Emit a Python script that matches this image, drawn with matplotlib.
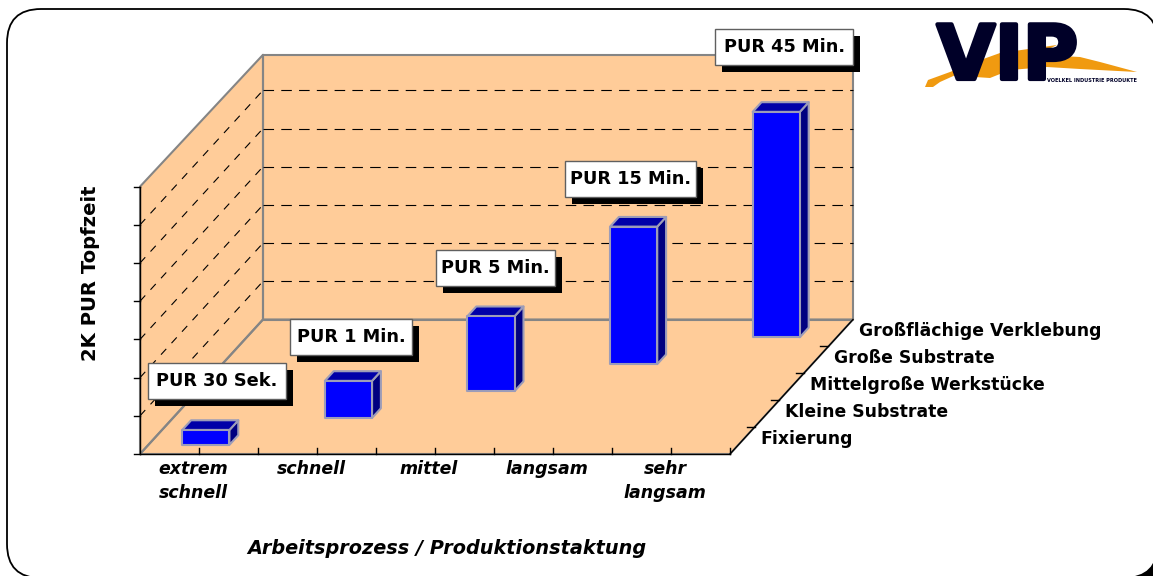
import matplotlib
matplotlib.use("Agg")
import matplotlib.pyplot as plt
import matplotlib.patheffects as pe
from matplotlib.patches import Polygon, FancyBboxPatch, Rectangle

categories = ["extrem\nschnell", "schnell", "mittel", "langsam", "sehr\nlangsam"]
depths = ["Fixierung", "Kleine Substrate", "Mittelgroße Werkstücke", "Große Substrate", "Großflächige Verklebung"]
values = [0.39, 0.97, 1.96, 3.6, 5.9]
bar_labels = ["PUR 30 Sek.", "PUR 1 Min.", "PUR 5 Min.", "PUR 15 Min.", "PUR 45 Min."]
z_ticks = 7

# Layout (pixels): callout boxes as left, top, width
label_boxes = [(148, 363, 138), (290, 319, 122), (436, 250, 119), (565, 161, 131), (715, 29, 138)]

W, H = 1153, 576
fig = plt.figure(figsize=(W/100, H/100), dpi=100, facecolor="white")
ax = fig.add_axes([0, 0, 1, 1])
ax.set_xlim(0, W); ax.set_ylim(H, 0); ax.axis("off")

ORIGIN = (140.0, 454.0); UX = 118.0; DX = 24.6; DY = 26.9; UZ = 38.2
def P(x, d, z):
    return (ORIGIN[0] + UX*x + DX*d, ORIGIN[1] - DY*d - UZ*z)

FONT = "DejaVu Sans"
GRAY = "#858585"; WALL = "#FFCC99"
n = len(categories)
z_back = 6.93

# Rounded frame with the black corner beyond it
ax.add_patch(Rectangle((1125, 555), 30, 22, fc="black", ec="none", zorder=0.2))
ax.add_patch(FancyBboxPatch((7, 9), 1151, 569, boxstyle="round,pad=0,rounding_size=34",
             fc="white", ec="black", lw=1.3, zorder=0.5))

# Walls and floor
left = [P(0,0,0), P(0,n,0), P(0,n,z_back), P(0,0,z_ticks)]
back = [P(0,n,0), P(n,n,0), P(n,n,z_back), P(0,n,z_back)]
floor = [P(0,0,0), P(n,0,0), P(n,n,0), P(0,n,0)]
for poly in (left, back, floor):
    ax.add_patch(Polygon(poly, closed=True, fc=WALL, ec="none", zorder=1))
for poly in (left, back, floor):
    ax.add_patch(Polygon(poly, closed=True, fc="none", ec=GRAY, lw=1.5, zorder=1.2, joinstyle="round"))

# Dashed gridlines
for z in range(1, z_ticks):
    a, b, c = P(0,0,z), P(0,n,z), P(n,n,z)
    ax.plot([a[0], b[0]], [a[1], b[1]], color="black", lw=0.8, dashes=(7, 7), zorder=1.5)
    ax.plot([b[0], c[0]], [b[1], c[1]], color="black", lw=0.8, dashes=(9.5, 6.5), zorder=1.5)

# Axis lines and ticks
a, b = P(0,0,0), P(n,0,0)
ax.plot([a[0], b[0]], [a[1], b[1]], color="black", lw=1.0, zorder=2)
a, b = P(0,0,0), P(0,0,z_ticks)
ax.plot([a[0], b[0]], [a[1], b[1]], color="black", lw=1.0, zorder=2)
for z in range(0, z_ticks+1):
    p = P(0,0,z)
    ax.plot([p[0]-6, p[0]], [p[1], p[1]], color="black", lw=1.0, zorder=2)
for k in range(1, 2*n+1):
    p = P(k/2,0,0)
    ax.plot([p[0], p[0]], [p[1], p[1]-6], color="black", lw=1.0, zorder=2)
a, b = P(n,0,0), P(n,n,0)
ax.plot([a[0], b[0]], [a[1], b[1]], color="black", lw=1.0, zorder=2)
for d in range(1, n):
    p = P(n,d,0)
    ax.plot([p[0]-8, p[0]], [p[1], p[1]], color="black", lw=1.0, zorder=2)

# Bars
HW = 0.2; D0 = 0.34; D1 = 0.70
for i, v in enumerate(values):
    x0, x1 = i+0.487-HW, i+0.487+HW
    d0, d1 = i+D0, i+D1
    kw = dict(closed=True, ec="#9C9CB8", lw=1.5, zorder=3, joinstyle="round")
    ax.add_patch(Polygon([P(x1,d0,0),P(x1,d1,0),P(x1,d1,v),P(x1,d0,v)], fc="#000080", **kw))
    ax.add_patch(Polygon([P(x0,d0,v),P(x1,d0,v),P(x1,d1,v),P(x0,d1,v)], fc="#0000A8", **kw))
    ax.add_patch(Polygon([P(x0,d0,0),P(x1,d0,0),P(x1,d0,v),P(x0,d0,v)], fc="#0000FF", **kw))

# Callout labels
for (bx, by, bw), s in zip(label_boxes, bar_labels):
    ax.add_patch(Rectangle((bx+7, by+7), bw, 36, fc="black", ec="none", zorder=4))
    ax.add_patch(Rectangle((bx, by), bw, 36, fc="white", ec="#606060", lw=1, zorder=4.5))
    ax.text(bx+bw/2, by+18, s, ha="center", va="center", fontsize=12.8, fontweight="bold",
            family=FONT, zorder=5)

# Category labels
for i, c in enumerate(categories):
    p = P(i+0.45, 0, 0)
    ax.text(p[0], p[1]+6, c, ha="center", va="top", fontsize=12.5, fontweight="bold",
            style="italic", family=FONT, linespacing=1.4)

# Depth labels
for d, s in enumerate(depths):
    p = P(n, d+0.5, 0)
    ax.text(p[0]+18, p[1]-2, s, ha="left", va="center", fontsize=12.4, fontweight="bold", family=FONT)

# Axis titles
ax.text(90, 273, "2K PUR Topfzeit", rotation=90, ha="center", va="center", fontsize=14.1,
        fontweight="bold", family=FONT)
ax.text(447, 549, "Arbeitsprozess / Produktionstaktung", ha="center", va="center", fontsize=13.9,
        fontweight="bold", style="italic", family=FONT)

# Logo
swoosh = [(925,87),(928,80),(950,72),(975,62),(1000,53),(1057,45),(1043,52),(1060,56),(1080,57),(1100,62),(1137,72),
          (1080,69),(1047,67),(1010,70),(990,78),(975,77),(960,73),(940,82),(933,87)]
ax.add_patch(Polygon(swoosh, closed=True, fc="#F09A10", ec="none", zorder=6))
ax.text(937, 79, "VIP", ha="left", va="baseline", fontsize=54, fontweight="bold",
        family=FONT, color="#000028", zorder=7,
        path_effects=[pe.withStroke(linewidth=3, foreground="#000028")])
ax.text(1092, 81, "VOELKEL INDUSTRIE PRODUKTE", ha="center", va="center", fontsize=3.6, fontweight="bold",
        family=FONT, color="#000028", zorder=7)

fig.savefig("out.png", dpi=100)
